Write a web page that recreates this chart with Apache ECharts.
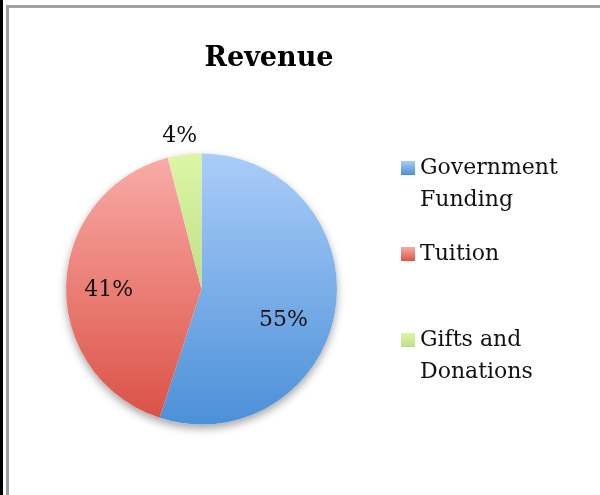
<!DOCTYPE html>
<html>
<head>
<meta charset="utf-8">
<script src="https://cdn.jsdelivr.net/npm/echarts@6/dist/echarts.min.js"></script>
<style>
  html, body { margin: 0; padding: 0; background: #fff; }
  #main { width: 600px; height: 495px; }
</style>
</head>
<body>
<div id="main"></div>
<script>
// data
var categories = ['Government Funding', 'Tuition', 'Gifts and Donations'];
var values = [55, 41, 4];
var legendLabels = ['Government\nFunding', 'Tuition', 'Gifts and\nDonations'];

// top / bottom colours of each slice gradient
var colorTop = ['#aacdf9', '#f9aba6', '#dcf6a6'];
var colorBottom = ['#4b90d8', '#db5246', '#bfe087'];
var labelOffset = [[12, 20], [-22, 4], [-13, -83]];

var fontFam = '"DejaVu Serif", serif';

function grad(i, end) {
    return {
        type: 'linear', x: 0, y: 0, x2: 0, y2: 1,
        colorStops: [{ offset: 0, color: colorTop[i] }, { offset: end || 1, color: colorBottom[i] }]
    };
}

var pieData = [];
for (var i = 0; i < categories.length; i++) {
    pieData.push({
        name: categories[i],
        value: values[i],
        itemStyle: { color: grad(i) },
        label: { offset: labelOffset[i] }
    });
}

// one legend per item so the odd spacing can be kept
var legendTops = [152, 238, 324];
var legends = [];
for (var j = 0; j < categories.length; j++) {
    var twoLines = legendLabels[j].indexOf('\n') > -1;
    legends.push({
        data: [{
            name: categories[j],
            // square sits on the first text line: an empty point below stretches the box
            icon: twoLines ? 'path://M0,0h14v14h-14z M0,46' : 'rect',
            itemStyle: { color: twoLines ? grad(j, 0.3) : grad(j) }
        }],
        left: 401,
        top: legendTops[j],
        padding: 0,
        orient: 'vertical',
        itemWidth: 14,
        itemHeight: twoLines ? 46 : 14,
        itemGap: 5,
        selectedMode: false,
        formatter: (function (k) { return function () { return legendLabels[k]; }; })(j),
        textStyle: {
            fontFamily: fontFam,
            fontSize: 22,
            color: '#111',
            lineHeight: 32
        }
    });
}

var chart = echarts.init(document.getElementById('main'));
chart.setOption({
    animation: false,
    backgroundColor: '#fff',
    title: {
        text: 'Revenue',
        left: 264,
        top: 40,
        textAlign: 'center',
        textStyle: { fontFamily: fontFam, fontWeight: 'bold', fontSize: 27, color: '#000' }
    },
    legend: legends,
    graphic: [
        { type: 'rect', z: 100, shape: { x: 0, y: 0, width: 3, height: 495 }, style: { fill: '#000' } },
        { type: 'rect', z: 100, shape: { x: 6, y: 5, width: 3, height: 490 }, style: { fill: '#a0a0a0' } },
        { type: 'rect', z: 100, shape: { x: 6, y: 5, width: 594, height: 3 }, style: { fill: '#a0a0a0' } }
    ],
    series: [
        {
            // shadow disc behind the pie
            type: 'pie',
            silent: true,
            center: [201.5, 289],
            radius: 135.5,
            z: 1,
            label: { show: false },
            labelLine: { show: false },
            itemStyle: {
                color: '#fff',
                shadowBlur: 8,
                shadowColor: 'rgba(0,0,0,0.35)',
                shadowOffsetY: 4
            },
            data: [{ value: 1, name: '' }]
        },
        {
            type: 'pie',
            center: [201.5, 289],
            radius: 135.5,
            startAngle: 90,
            clockwise: true,
            z: 2,
            label: {
                show: true,
                position: 'inside',
                formatter: '{c}%',
                fontFamily: fontFam,
                fontSize: 22,
                color: '#111'
            },
            labelLine: { show: false },
            emphasis: { disabled: true },
            data: pieData
        }
    ]
});
</script>
</body>
</html>
